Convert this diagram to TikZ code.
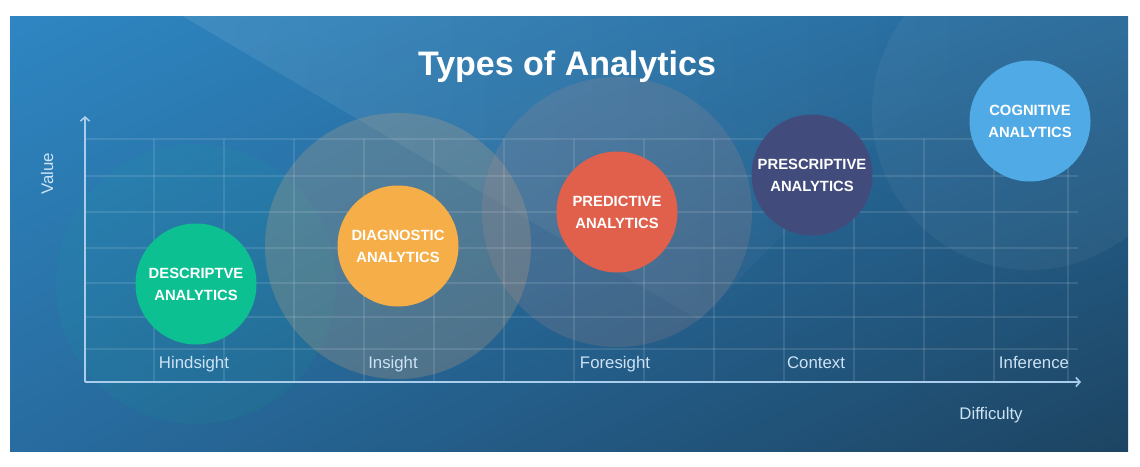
\documentclass[tikz,border=0pt]{standalone}
\usepackage{fontspec}
\setmainfont{Liberation Sans}
\usetikzlibrary{arrows.meta,shadings,fadings}
\definecolor{bgUL}{RGB}{46,134,194}
\definecolor{bgUR}{RGB}{38,104,152}
\definecolor{bgLL}{RGB}{40,108,160}
\definecolor{bgLR}{RGB}{29,68,98}
\definecolor{cDesc}{RGB}{12,192,146}
\definecolor{cDiag}{RGB}{246,174,72}
\definecolor{cPred}{RGB}{224,96,76}
\definecolor{cPresc}{RGB}{66,76,124}
\definecolor{cCog}{RGB}{80,170,230}
\definecolor{haloDiag}{RGB}{225,175,120}
\definecolor{haloPred}{RGB}{205,145,135}
\definecolor{axisc}{RGB}{170,205,235}
\definecolor{labc}{RGB}{205,226,244}
\tikzset{
  bubble/.style={circle, minimum size=121pt, inner sep=0pt, text=white,
    font=\bfseries\fontsize{14.8}{22}\selectfont, align=center},
  gridline/.style={white, opacity=0.11, line width=1.4pt},
  axisline/.style={axisc, line width=2pt, -{Straight Barb[length=4pt,width=9pt,line width=1.6pt]}},
  axlabel/.style={text=labc, font=\fontsize{16.8}{20}\selectfont, inner sep=0pt},
  titletext/.style={text=white, font=\bfseries\fontsize{34}{40}\selectfont, inner sep=0pt}
}
\begin{document}
\begin{tikzpicture}[x=1pt,y=-1pt]
\useasboundingbox (0,0) rectangle (1140,466);
\fill[white] (0,0) rectangle (1140,466);
\shade[upper left=bgUL, upper right=bgUR, lower left=bgLL, lower right=bgLR] (10,16) rectangle (1128,451);
\begin{scope}
  \clip (10,16) rectangle (1128,451);
  % light diagonal band
  \fill[white, opacity=0.09, path fading=east] (183,16) -- (700,320) -- (1000,16) -- cycle;
  % halos
  \fill[cDesc, opacity=0.08] (196,284) circle[radius=140];
  \fill[haloDiag, opacity=0.22] (398,246) circle[radius=133];
  \fill[haloPred, opacity=0.17] (617,212) circle[radius=135];
  \fill[white, opacity=0.045] (1030,112) circle[radius=158];
  % grid
  \foreach \yy in {139,176,212,248,283,317,349}
    \draw[gridline] (85,\yy) -- (1078,\yy);
  \foreach \xx in {154,224,294,364,434,504,574,644,714,784,854,924,994,1068}
    \draw[gridline] (\xx,139) -- (\xx,382);
\end{scope}
% axes
\coordinate (O) at (85,382);
\coordinate (ytip) at (85,116);
\coordinate (xtip) at (1081,382);
\draw[axisline] (O) -- (ytip);
\draw[axisline] (O) -- (xtip);
% bubbles
\node[bubble, fill=cDesc] (desc) at (196,284) {DESCRIPTVE\\ANALYTICS};
\node[bubble, fill=cDiag] (diag) at (398,246) {DIAGNOSTIC\\ANALYTICS};
\node[bubble, fill=cPred] (pred) at (617,212) {PREDICTIVE\\ANALYTICS};
\node[bubble, fill=cPresc] (presc) at (812,175) {PRESCRIPTIVE\\ANALYTICS};
\node[bubble, fill=cCog] (cog) at (1030,121) {COGNITIVE\\ANALYTICS};
% axis labels
\node[axlabel, anchor=base] (hind) at (194,368) {Hindsight};
\node[axlabel, anchor=base] (ins) at (393,368) {Insight};
\node[axlabel, anchor=base] (fore) at (615,368) {Foresight};
\node[axlabel, anchor=base] (ctx) at (816,368) {Context};
\node[axlabel, anchor=base] (inf) at (1034,368) {Inference};
\node[axlabel, rotate=90] (val) at (47,174) {Value};
\node[axlabel] (diff) at (991,415) {Difficulty};
% title
\node[titletext, anchor=base] (title) at (567,75) {Types of Analytics};
\end{tikzpicture}
\end{document}
